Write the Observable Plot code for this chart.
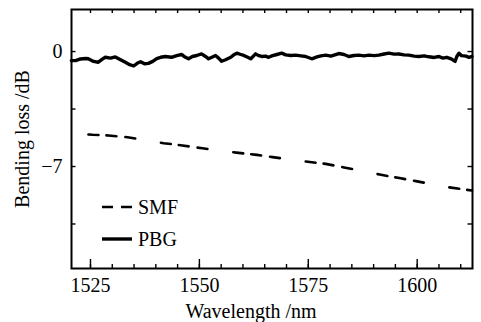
<!DOCTYPE html>
<html><head><meta charset="utf-8">
<script src="https://cdn.jsdelivr.net/npm/d3@7"></script>
<script src="https://cdn.jsdelivr.net/npm/@observablehq/plot@0.6"></script>
<style>
body{margin:0;background:#fff;}
#wrap{position:relative;width:481px;height:322px;background:#fff;}
#legend{position:absolute;left:100px;top:195px;}
#legend text{font-family:"Liberation Serif","Times New Roman",serif;font-size:20px;fill:#000;}
</style></head><body><div id="wrap"></div>
<script>
// PBG fibre: bending loss (dB) vs wavelength (nm)
const pbgWavelength = [1520.6,1521.6,1522.7,1523.9,1524.5,1525.7,1526.8,1527.8,1528.4,1529.6,1530.7,1531.9,1533.0,1534.0,1534.9,1535.8,1536.5,1537.4,1538.3,1539.3,1540.2,1541.1,1542.2,1543.6,1544.8,1545.9,1546.8,1547.5,1548.4,1549.4,1550.5,1551.4,1552.1,1553.0,1553.7,1554.4,1555.1,1556.0,1557.2,1557.9,1558.6,1559.5,1560.2,1561.1,1561.8,1562.5,1562.9,1563.6,1564.3,1565.2,1565.9,1566.8,1567.8,1568.9,1569.8,1571.0,1572.1,1573.3,1574.4,1575.8,1577.0,1577.9,1579.0,1580.2,1581.1,1582.0,1583.2,1584.3,1585.5,1586.6,1587.8,1588.9,1590.1,1591.2,1592.4,1593.5,1594.7,1595.8,1597.0,1598.1,1599.3,1600.4,1601.6,1602.7,1603.9,1605.0,1605.9,1606.8,1607.8,1608.7,1609.1,1609.6,1610.2,1611.2,1611.9,1612.6];
const pbgLoss = [-0.55,-0.55,-0.45,-0.42,-0.44,-0.60,-0.65,-0.45,-0.35,-0.40,-0.33,-0.50,-0.65,-0.80,-0.88,-0.70,-0.62,-0.75,-0.72,-0.60,-0.43,-0.35,-0.30,-0.35,-0.25,-0.18,-0.35,-0.44,-0.30,-0.24,-0.14,-0.30,-0.44,-0.33,-0.24,-0.40,-0.59,-0.50,-0.35,-0.20,-0.10,-0.18,-0.24,-0.35,-0.44,-0.25,-0.14,-0.25,-0.30,-0.28,-0.35,-0.25,-0.18,-0.10,-0.20,-0.24,-0.22,-0.26,-0.30,-0.44,-0.33,-0.26,-0.22,-0.28,-0.20,-0.12,-0.18,-0.30,-0.24,-0.22,-0.26,-0.22,-0.25,-0.22,-0.15,-0.10,-0.16,-0.15,-0.20,-0.22,-0.28,-0.30,-0.26,-0.32,-0.36,-0.30,-0.40,-0.35,-0.45,-0.60,-0.30,-0.10,-0.25,-0.28,-0.35,-0.30];
// SMF: bending loss (dB) vs wavelength (nm)
const smfWavelength = [1521.1,1525.5,1529.1,1533.5,1541.8,1546.1,1550.7,1559.0,1563.2,1566.8,1574.9,1579.0,1582.9,1591.4,1595.6,1599.7,1607.1,1611.4,1612.6];
const smfLoss = [-4.99,-5.07,-5.11,-5.22,-5.58,-5.72,-5.89,-6.17,-6.29,-6.43,-6.71,-6.84,-7.04,-7.49,-7.69,-7.89,-8.26,-8.42,-8.46];
// ticks
const xTickLabels = [1525,1550,1575,1600];
const xMinorTicks = [1525,1530,1535,1540,1545,1550,1555,1560,1565,1570,1575,1580,1585,1590,1595,1600,1605,1610];
const yTickLabels = [0,-7];
const yMinorTicks = [0,-3.5,-7,-10.5];
const seriesNames = ["SMF","PBG"];

const pbg = pbgWavelength.map((w,i)=>({w, l: pbgLoss[i]}));
const smf = smfWavelength.map((w,i)=>({w, l: smfLoss[i]}));
const fmt = d => d < 0 ? "\u2212" + (-d) : String(d);
const FONT = "'Liberation Serif', 'Times New Roman', serif";

const W = 481, H = 322, ML = 71, MR = 9, MT = 9, MB = 54;
const FW = W - ML - MR, FH = H - MT - MB; // frame size in px
const tick = {stroke: "#000", strokeWidth: 1.4};

const plot = Plot.plot({
  width: W, height: H,
  marginLeft: ML, marginRight: MR, marginTop: MT, marginBottom: MB,
  style: {fontFamily: FONT, fontSize: "20px", background: "#fff", color: "#000", overflow: "visible"},
  x: {domain: [1520.64, 1612.7], label: null},
  y: {domain: [-13.21, 2.56], label: null},
  marks: [
    Plot.line(smf, {x: "w", y: "l", stroke: "#000", strokeWidth: 2.6, strokeDasharray: "10,8,10,9,10,26", strokeDashoffset: 58}),
    Plot.line(pbg, {x: "w", y: "l", stroke: "#000", strokeWidth: 3.4, strokeLinejoin: "round"}),
    // inward ticks
    Plot.tickX(xMinorTicks, {x: d => d, insetTop: FH - 4, ...tick}),
    Plot.tickX(xTickLabels, {x: d => d, insetTop: FH - 9, ...tick}),
    Plot.tickX(xMinorTicks, {x: d => d, insetBottom: FH - 4, ...tick}),
    Plot.tickY(yMinorTicks, {y: d => d, insetRight: FW - 4.5, ...tick}),
    Plot.tickY(yMinorTicks, {y: d => d, insetLeft: FW - 4.5, ...tick}),
    Plot.axisX(xTickLabels, {anchor: "bottom", tickSize: 0, tickPadding: 9, label: null, tickFormat: d => String(d), fontSize: 20}),
    Plot.axisY(yTickLabels, {anchor: "left", tickSize: 0, tickPadding: 9, label: null, tickFormat: fmt, fontSize: 20}),
    Plot.frame({stroke: "#000", strokeWidth: 2}),
    Plot.text(["Wavelength /nm"], {frameAnchor: "bottom", dx: -21, dy: 43, fontSize: 20, textAnchor: "middle", lineAnchor: "middle"}),
    Plot.text(["Bending loss /dB"], {frameAnchor: "left", dx: -49, rotate: -90, fontSize: 20, textAnchor: "middle", lineAnchor: "middle"})
  ]
});
const wrap = document.getElementById("wrap");
wrap.appendChild(plot);

const legend = document.createElement("div");
legend.id = "legend";
legend.innerHTML = `<svg width="100" height="60">
  <line x1="2" x2="32" y1="12" y2="12" stroke="#000" stroke-width="2.4" stroke-dasharray="11,8"/>
  <text x="38" y="12" dominant-baseline="central">${seriesNames[0]}</text>
  <line x1="2" x2="32" y1="44" y2="44" stroke="#000" stroke-width="3.4"/>
  <text x="38" y="44" dominant-baseline="central">${seriesNames[1]}</text>
</svg>`;
wrap.appendChild(legend);
</script></body></html>
